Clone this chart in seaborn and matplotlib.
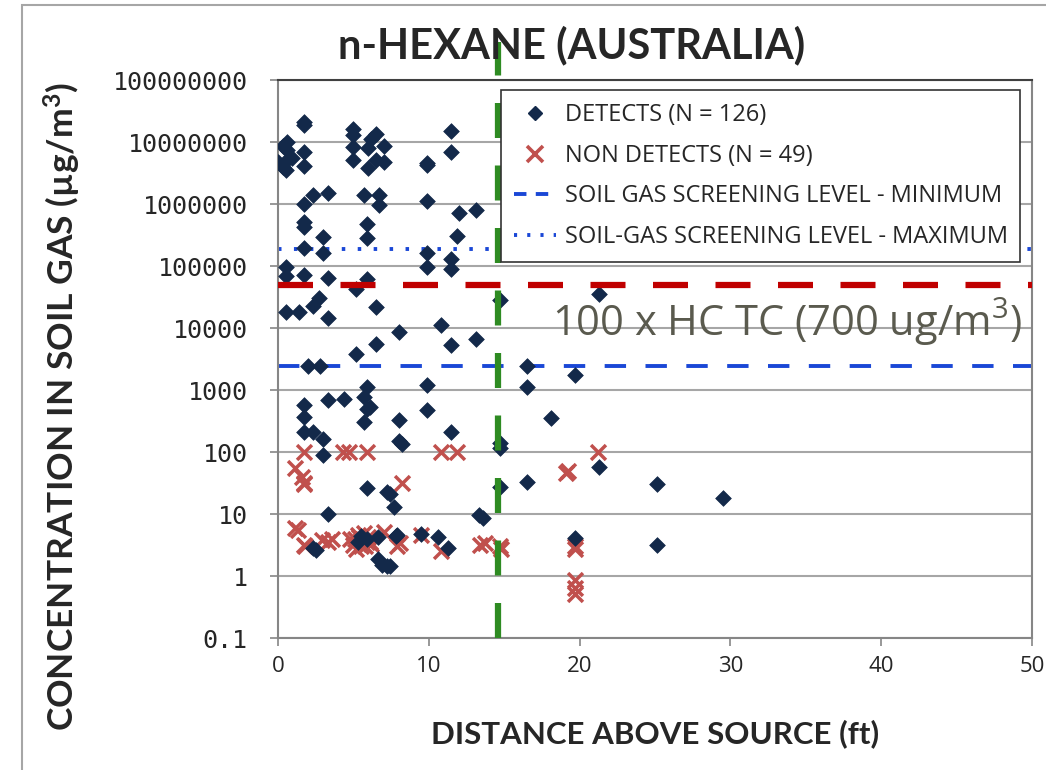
import numpy as np
import pandas as pd
import matplotlib
matplotlib.use("Agg")
import matplotlib.pyplot as plt
import seaborn as sns
from matplotlib.lines import Line2D
from matplotlib.patches import Rectangle

# ---------------- data ----------------
detect_x = [1.7, 1.7, 5.0, 6.5, 11.5, 0.6, 5.0, 5.0, 6.0, 7.0, 1.7, 0.6, 0.6, 0.0, 0.5, 1.7,
            5.0, 6.5, 7.0, 6.0, 11.5, 9.9, 9.9, 2.3, 3.3, 1.7, 5.7, 6.7, 6.7, 9.9, 12.0, 13.1,
            1.7, 1.7, 5.9, 5.9, 3.0, 11.9, 1.7, 3.0, 9.9, 9.9, 11.5, 11.5, 0.5, 0.5, 1.7, 3.3,
            5.2, 5.9, 0.5, 1.4, 2.3, 2.7, 3.3, 6.5, 14.7, 21.3, 8.0, 10.8, 11.5, 13.1, 6.5, 5.2,
            2.0, 2.8, 16.5, 19.7, 16.5, 5.9, 5.7, 9.9, 3.3, 4.4, 6.1, 5.9, 1.7, 1.7, 1.7, 2.3,
            3.0, 5.7, 8.0, 9.9, 18.1, 8.0, 8.2, 11.5, 14.7, 14.7, 21.3, 3.0, 5.9, 7.2, 7.7, 7.4,
            3.3, 14.7, 16.5, 25.1, 29.5, 13.3, 13.6, 2.3, 6.6, 6.6, 7.2, 6.9, 7.9, 7.8, 9.5, 10.6,
            11.3, 19.7, 25.1, 5.9, 5.3, 7.4, 0.3, 0.9, 0.3, 6.2, 5.5, 2.5]
detect_y = [2.1e7, 1.9e7, 1.65e7, 1.35e7, 1.5e7, 1.0e7, 1.3e7, 8.3e6, 8.1e6, 8.7e6, 6.8e6, 7.4e6,
            5.2e6, 4.8e6, 3.6e6, 4.1e6, 5.1e6, 5.1e6, 4.8e6, 3.8e6, 6.8e6, 4.6e6, 4.3e6, 1.4e6,
            1.5e6, 1.0e6, 1.4e6, 1.4e6, 9.5e5, 1.1e6, 7.1e5, 8.1e5, 5.1e5, 4.3e5, 4.8e5, 2.8e5,
            2.9e5, 3.0e5, 1.95e5, 1.6e5, 1.6e5, 9.8e4, 1.3e5, 9.1e4, 9.8e4, 6.8e4, 7.1e4, 6.3e4,
            4.2e4, 6.2e4, 1.8e4, 1.8e4, 2.3e4, 3.0e4, 1.45e4, 2.2e4, 2.8e4, 3.5e4, 8.7e3, 1.1e4,
            5.4e3, 6.6e3, 5.6e3, 3.8e3, 2.45e3, 2.4e3, 2.45e3, 1.75e3, 1.1e3, 1.1e3, 7.6e2, 1.2e3,
            6.9e2, 7.1e2, 5.4e2, 5.0e2, 5.8e2, 3.7e2, 2.1e2, 2.1e2, 1.65e2, 3.1e2, 3.3e2, 4.8e2,
            3.5e2, 1.5e2, 1.35e2, 2.1e2, 1.4e2, 1.15e2, 58, 88, 26, 23, 13, 21,
            10, 27, 33, 31, 18, 9.5, 8.5, 2.8, 4.3, 1.9, 1.45, 1.5, 4.6, 4.4, 4.8, 4.3,
            2.8, 4.1, 3.2, 4.0, 3.5, 1.45, 8.7e6, 5.5e6, 4.0e6, 1.1e7, 4.5, 2.6]

nondetect_x = [1.7, 4.3, 4.7, 5.9, 10.8, 11.9, 21.2, 1.1, 1.6, 1.7, 8.2, 19.2, 19.1, 1.1, 1.7,
               2.9, 3.3, 3.55, 5.0, 5.3, 5.5, 5.7, 5.9, 6.0, 5.2, 5.6, 7.0, 7.9, 8.1, 9.5,
               10.8, 13.4, 13.7, 14.7, 14.8, 19.7, 19.7, 19.7, 19.7, 19.7, 6.2, 4.8, 5.4, 5.8,
               1.35, 1.79, 6.1, 5.1, 1.7]
nondetect_y = [100, 100, 100, 100, 100, 100, 100, 55, 40, 32, 32, 50, 46, 5.9, 3.2,
               3.8, 3.6, 4.0, 3.2, 4.6, 3.0, 5.0, 3.5, 4.2, 2.7, 3.8, 5.1, 3.0, 3.4, 4.6,
               2.5, 3.2, 3.4, 3.0, 2.7, 3.0, 2.7, 0.87, 0.63, 0.52, 3.3, 4.0, 4.3, 3.1,
               5.5, 3.0, 3.6, 3.9, 30]

sl_min = 2400
sl_max = 190000
hc_tc_100x = 50000
source_dist = 14.6

legend_labels = ["DETECTS (N = 126)", "NON DETECTS (N = 49)",
                 "SOIL GAS SCREENING LEVEL - MINIMUM", "SOIL-GAS SCREENING LEVEL - MAXIMUM"]
y_ticks = [0.1, 1, 10, 100, 1000, 10000, 100000, 1000000, 10000000, 100000000]
y_tick_labels = ["0.1", "1", "10", "100", "1000", "10000", "100000", "1000000",
                 "10000000", "100000000"]
x_ticks = [0, 10, 20, 30, 40, 50]

# ---------------- style ----------------
sns.set_theme(style="white")
plt.rcParams["font.family"] = ["Open Sans", "DejaVu Sans"]
plt.rcParams["mathtext.default"] = "regular"

navy = "#13294a"
red_x = "#c0504d"
green = "#2e8b22"
red_line = "#c00000"
blue = "#1a47d6"

fig = plt.figure(figsize=(10.46, 7.70), dpi=100)
ax = fig.add_axes([278/1046, 1-638/770, (1032-278)/1046, (638-80)/770])

df_d = pd.DataFrame({"x": detect_x, "y": detect_y})
df_n = pd.DataFrame({"x": nondetect_x, "y": nondetect_y})

sns.scatterplot(data=df_d, x="x", y="y", marker="D", s=64, color=navy,
                edgecolor=navy, linewidth=0.5, ax=ax, zorder=4)
sns.scatterplot(data=df_n, x="x", y="y", marker="x", s=115, color=red_x,
                linewidth=2.5, ax=ax, zorder=3)

ax.set_yscale("log")
ax.set_xlim(0, 50)
ax.set_ylim(0.1, 1e8)

# reference lines
ax.axhline(sl_min, color=blue, lw=2.8, dashes=(5.5, 5), zorder=2)
ax.axhline(sl_max, color=blue, lw=2.8, dashes=(0.9, 3.2), zorder=2)
ax.axhline(hc_tc_100x, color=red_line, lw=4.5, dashes=(5.6, 4.4), zorder=5)
ax.plot([source_dist, source_dist], [0.1, 10**8.62], color=green, lw=4.5,
        dashes=(5.6, 4.4), clip_on=False, zorder=6)

ax.text(18.2, 12500, "100 x HC TC (700 ug/m$^3$)", fontsize=30, color="#5a5a4e",
        ha="left", va="center", zorder=7, family=["Open Sans", "DejaVu Sans"])

# axes cosmetics
ax.set_yticks(y_ticks)
ax.set_yticklabels(y_tick_labels, family=["DejaVu Sans Mono"], fontsize=18)
ax.yaxis.set_minor_locator(matplotlib.ticker.NullLocator())
ax.set_xticks(x_ticks)
ax.set_xticklabels([str(t) for t in x_ticks], fontsize=16)
ax.tick_params(axis="both", which="major", direction="out", length=6, width=1.2,
               color="#868686", left=True, bottom=True)
ax.tick_params(axis="y", pad=16)
ax.tick_params(axis="x", pad=7)
ax.grid(axis="y", color="#a6a6a6", lw=1.5)
ax.grid(axis="x", visible=False)
for side in ["left", "bottom", "right"]:
    ax.spines[side].set_color("#868686")
    ax.spines[side].set_linewidth(1.5)
ax.spines["top"].set_color("#404040")
ax.spines["top"].set_linewidth(1.5)

ax.set_xlabel("DISTANCE ABOVE SOURCE (ft)", fontsize=22.5, fontweight="bold",
              family=["Lato", "DejaVu Sans"], labelpad=30)
ax.set_ylabel("CONCENTRATION IN SOIL GAS (µg/m$^3$)", fontsize=25.5, fontweight="bold",
              family=["Lato", "DejaVu Sans"])
ax.yaxis.set_label_coords(-0.259, 0.415)

fig.text(572/1046, 1-45/770, "n-HEXANE (AUSTRALIA)", fontsize=30, fontweight="bold",
         family=["Lato", "DejaVu Sans"], ha="center", va="center")

handles = [
    Line2D([], [], ls="none", marker="D", markersize=7, color=navy),
    Line2D([], [], ls="none", marker="x", markersize=11, mew=2.6, color=red_x),
    Line2D([], [], color=blue, lw=2.8, dashes=(3.2, 2.4)),
    Line2D([], [], color=blue, lw=2.8, dashes=(0.8, 2.6)),
]
leg = ax.legend(handles, legend_labels, loc="upper right", bbox_to_anchor=(0.991, 0.99),
                fontsize=17, frameon=True, fancybox=False, framealpha=1,
                edgecolor="#333333", handlelength=1.8, handletextpad=0.35,
                labelspacing=0.7, borderpad=0.55, borderaxespad=0.2)
leg.get_frame().set_linewidth(1.2)
leg.set_zorder(10)

# outer chart frame
fig.patches.append(Rectangle((22/1046, -0.05), 1.2, 1.05 - 5/770,
                             transform=fig.transFigure, fill=False,
                             edgecolor="#a6a6a6", lw=1.5))

fig.savefig("out.png", dpi=100)
